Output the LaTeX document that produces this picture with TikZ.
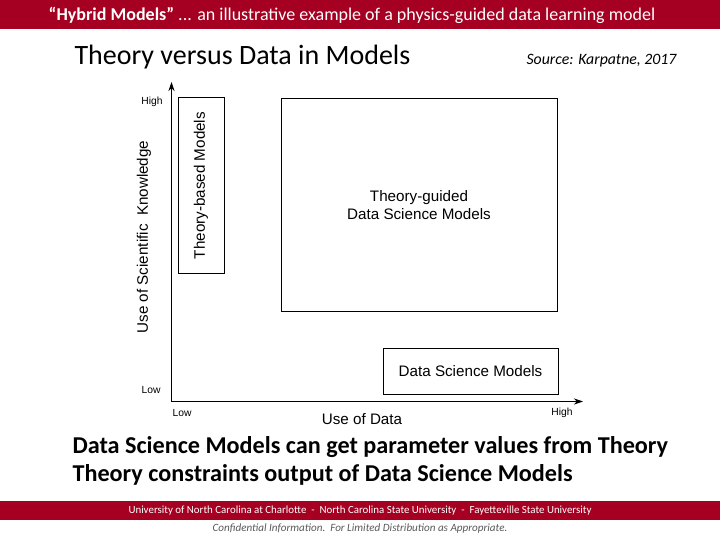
\documentclass[tikz,border=0pt]{standalone}
\usepackage{fontspec}
\setmainfont{Carlito}
\newfontfamily\arial{Liberation Sans}
\usetikzlibrary{arrows.meta}
\definecolor{barred}{HTML}{A50021}
\begin{document}
\begin{tikzpicture}[x=1pt,y=-1pt,
  modelbox/.style={draw,line width=1pt,inner sep=0pt,align=center,font=\arial\fontsize{15.2}{17.5}\selectfont},
  ticklbl/.style={font=\arial\fontsize{10.3}{12}\selectfont},
  axislbl/.style={font=\arial\fontsize{15.2}{18}\selectfont},
  axisline/.style={line width=1.1pt,-{Stealth[length=9pt,width=6pt]}}]
\useasboundingbox (0,0) rectangle (720,540);
\fill[barred] (0,0) rectangle (720,29);
\fill[barred] (0,501) rectangle (720,520);
\node[text=white,font=\fontsize{18}{20}\selectfont] (title) at (352,15) {\textbf{“Hybrid Models”} ... an illustrative example of a physics-guided data learning model};
\node[anchor=west,font=\fontsize{28}{32}\selectfont] (heading) at (71,57) {Theory versus Data in Models};
\node[anchor=east,font=\itshape\fontsize{15.8}{18}\selectfont] (source) at (680,61) {Source: Karpatne, 2017};
% axes
\coordinate (origin) at (171.5,401.5);
\coordinate (ytip) at (171.5,82);
\coordinate (xtip) at (583,401.5);
\draw[axisline] (origin) -- (ytip);
\draw[axisline] (origin) -- (xtip);
\node[ticklbl] (yhigh) at (152,102) {High};
\node[ticklbl] (ylow) at (151,390) {Low};
\node[ticklbl] (xlow) at (182,413) {Low};
\node[ticklbl] (xhigh) at (562,413) {High};
\node[axislbl] (xlabel) at (362,419) {Use of Data};
\node[axislbl,rotate=90] (ylabel) at (144,237) {Use of Scientific\ \ Knowledge};
% boxes
\node[modelbox,minimum width=46pt,minimum height=175pt] (theory) at (201,185.5) {};
\node[rotate=90,font=\arial\fontsize{15.2}{17.5}\selectfont] (theorytxt) at (theory.center) {Theory-based Models};
\node[modelbox,minimum width=276pt,minimum height=212pt] (guided) at (419,205) {Theory-guided\\Data Science Models};
\node[modelbox,minimum width=175pt,minimum height=46pt] (dsm) at (470.5,371) {Data Science Models};
% bottom text
\node[anchor=west,font=\bfseries\fontsize{24.2}{28}\selectfont] (line1) at (69,447) {Data Science Models can get parameter values from Theory};
\node[anchor=west,font=\bfseries\fontsize{24.2}{28}\selectfont] (line2) at (69,475) {Theory constraints output of Data Science Models};
\node[text=white,font=\fontsize{10.9}{12}\selectfont] (unis) at (360,510.5) {University of North Carolina at Charlotte\ \ -\ \ North Carolina State University\ \ -\ \ Fayetteville State University};
\node[text=black!65,font=\itshape\fontsize{11.1}{13}\selectfont] (conf) at (360,529) {Confidential Information.\ \ For Limited Distribution as Appropriate.};
\end{tikzpicture}
\end{document}
